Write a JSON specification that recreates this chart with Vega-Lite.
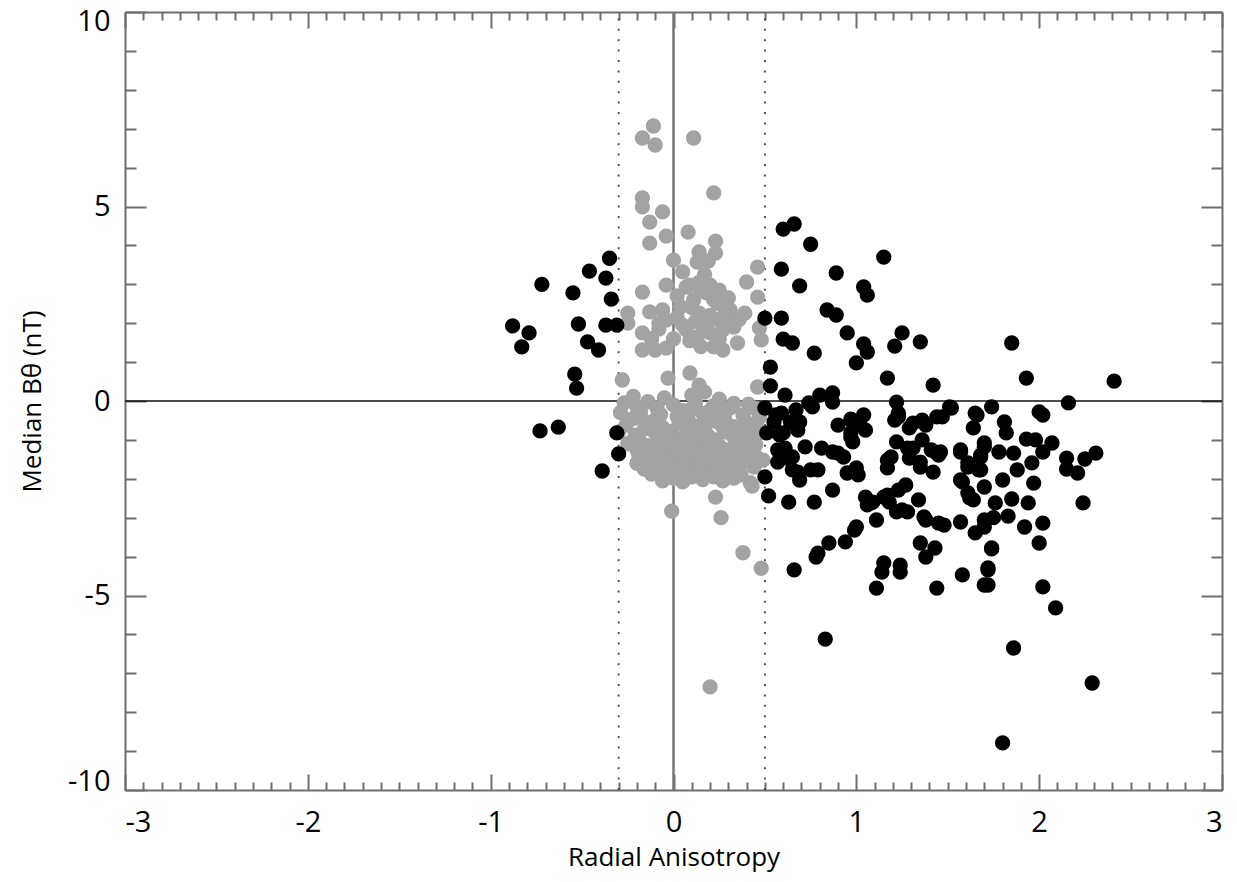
{
  "$schema": "https://vega.github.io/schema/vega-lite/v6.json",
  "width": 1097,
  "height": 778,
  "autosize": {"type": "none"},
  "padding": {"left": 125, "top": 12, "right": 15, "bottom": 92},
  "background": "white",
  "config": {
    "view": {"stroke": null},
    "font": "Open Sans",
    "axis": {
      "grid": false,
      "domainColor": "#6e6e6e",
      "domainWidth": 2,
      "tickColor": "#6e6e6e",
      "tickWidth": 2,
      "labelColor": "#000000",
      "titleColor": "#000000",
      "labelFont": "Open Sans",
      "titleFont": "Open Sans",
      "titleFontWeight": "normal",
      "labelFontSize": 29,
      "titleFontSize": 26
    }
  },
  "datasets": {
    "events": [
      {"ra": -0.11, "bt": 7.07, "set": "iso"},
      {"ra": -0.17, "bt": 6.76, "set": "iso"},
      {"ra": -0.10, "bt": 6.58, "set": "iso"},
      {"ra": 0.11, "bt": 6.76, "set": "iso"},
      {"ra": 0.22, "bt": 5.35, "set": "iso"},
      {"ra": -0.17, "bt": 5.22, "set": "iso"},
      {"ra": -0.17, "bt": 4.99, "set": "iso"},
      {"ra": -0.06, "bt": 4.86, "set": "iso"},
      {"ra": -0.13, "bt": 4.60, "set": "iso"},
      {"ra": 0.08, "bt": 4.34, "set": "iso"},
      {"ra": -0.13, "bt": 4.06, "set": "iso"},
      {"ra": -0.04, "bt": 4.24, "set": "iso"},
      {"ra": 0.23, "bt": 4.11, "set": "iso"},
      {"ra": 0.23, "bt": 3.80, "set": "iso"},
      {"ra": 0.14, "bt": 3.83, "set": "iso"},
      {"ra": 0.00, "bt": 3.62, "set": "iso"},
      {"ra": 0.46, "bt": 3.44, "set": "iso"},
      {"ra": 0.13, "bt": 3.57, "set": "iso"},
      {"ra": 0.40, "bt": 3.06, "set": "iso"},
      {"ra": -0.17, "bt": 2.80, "set": "iso"},
      {"ra": -0.04, "bt": 2.98, "set": "iso"},
      {"ra": 0.09, "bt": 2.98, "set": "iso"},
      {"ra": 0.20, "bt": 2.98, "set": "iso"},
      {"ra": 0.46, "bt": 2.67, "set": "iso"},
      {"ra": -0.25, "bt": 2.26, "set": "iso"},
      {"ra": -0.25, "bt": 2.00, "set": "iso"},
      {"ra": -0.13, "bt": 2.29, "set": "iso"},
      {"ra": -0.06, "bt": 2.34, "set": "iso"},
      {"ra": -0.04, "bt": 2.08, "set": "iso"},
      {"ra": -0.17, "bt": 1.75, "set": "iso"},
      {"ra": -0.17, "bt": 1.31, "set": "iso"},
      {"ra": -0.10, "bt": 1.31, "set": "iso"},
      {"ra": -0.04, "bt": 1.36, "set": "iso"},
      {"ra": 0.07, "bt": 2.93, "set": "iso"},
      {"ra": 0.11, "bt": 2.60, "set": "iso"},
      {"ra": 0.14, "bt": 2.26, "set": "iso"},
      {"ra": 0.07, "bt": 1.83, "set": "iso"},
      {"ra": 0.13, "bt": 1.65, "set": "iso"},
      {"ra": 0.18, "bt": 2.01, "set": "iso"},
      {"ra": 0.27, "bt": 1.83, "set": "iso"},
      {"ra": 0.22, "bt": 1.39, "set": "iso"},
      {"ra": 0.27, "bt": 1.31, "set": "iso"},
      {"ra": 0.35, "bt": 1.49, "set": "iso"},
      {"ra": 0.31, "bt": 2.34, "set": "iso"},
      {"ra": 0.39, "bt": 2.26, "set": "iso"},
      {"ra": 0.04, "bt": 2.42, "set": "iso"},
      {"ra": 0.24, "bt": 2.52, "set": "iso"},
      {"ra": 0.18, "bt": 2.78, "set": "iso"},
      {"ra": 0.25, "bt": 2.85, "set": "iso"},
      {"ra": 0.47, "bt": 1.88, "set": "iso"},
      {"ra": 0.48, "bt": 1.57, "set": "iso"},
      {"ra": -0.28, "bt": 0.54, "set": "iso"},
      {"ra": -0.03, "bt": 0.59, "set": "iso"},
      {"ra": 0.09, "bt": 0.72, "set": "iso"},
      {"ra": 0.14, "bt": 0.41, "set": "iso"},
      {"ra": 0.17, "bt": 0.23, "set": "iso"},
      {"ra": 0.46, "bt": 0.36, "set": "iso"},
      {"ra": 0.17, "bt": 3.25, "set": "iso"},
      {"ra": 0.05, "bt": 3.32, "set": "iso"},
      {"ra": 0.19, "bt": 3.60, "set": "iso"},
      {"ra": 0.20, "bt": 2.20, "set": "iso"},
      {"ra": 0.16, "bt": 1.95, "set": "iso"},
      {"ra": 0.02, "bt": 2.15, "set": "iso"},
      {"ra": 0.30, "bt": 2.05, "set": "iso"},
      {"ra": -0.08, "bt": 1.85, "set": "iso"},
      {"ra": 0.10, "bt": 2.40, "set": "iso"},
      {"ra": 0.15, "bt": 2.85, "set": "iso"},
      {"ra": 0.22, "bt": 2.60, "set": "iso"},
      {"ra": 0.28, "bt": 2.40, "set": "iso"},
      {"ra": 0.12, "bt": 2.05, "set": "iso"},
      {"ra": 0.24, "bt": 2.10, "set": "iso"},
      {"ra": 0.20, "bt": 1.75, "set": "iso"},
      {"ra": 0.09, "bt": 1.55, "set": "iso"},
      {"ra": 0.25, "bt": 1.60, "set": "iso"},
      {"ra": 0.33, "bt": 1.90, "set": "iso"},
      {"ra": 0.36, "bt": 2.10, "set": "iso"},
      {"ra": 0.05, "bt": 1.95, "set": "iso"},
      {"ra": -0.08, "bt": 2.00, "set": "iso"},
      {"ra": -0.12, "bt": 1.60, "set": "iso"},
      {"ra": 0.00, "bt": 1.60, "set": "iso"},
      {"ra": 0.15, "bt": 1.40, "set": "iso"},
      {"ra": 0.02, "bt": 2.70, "set": "iso"},
      {"ra": 0.30, "bt": 2.65, "set": "iso"},
      {"ra": 0.14, "bt": 3.05, "set": "iso"},
      {"ra": -0.22, "bt": 0.12, "set": "iso"},
      {"ra": -0.05, "bt": 0.08, "set": "iso"},
      {"ra": 0.10, "bt": 0.15, "set": "iso"},
      {"ra": 0.25, "bt": 0.05, "set": "iso"},
      {"ra": -0.27, "bt": -0.05, "set": "iso"},
      {"ra": -0.14, "bt": -0.02, "set": "iso"},
      {"ra": 0.00, "bt": -0.10, "set": "iso"},
      {"ra": 0.12, "bt": -0.05, "set": "iso"},
      {"ra": 0.22, "bt": -0.12, "set": "iso"},
      {"ra": 0.33, "bt": -0.06, "set": "iso"},
      {"ra": 0.45, "bt": -0.20, "set": "iso"},
      {"ra": -0.29, "bt": -0.30, "set": "iso"},
      {"ra": -0.18, "bt": -0.28, "set": "iso"},
      {"ra": -0.07, "bt": -0.35, "set": "iso"},
      {"ra": 0.05, "bt": -0.25, "set": "iso"},
      {"ra": 0.16, "bt": -0.32, "set": "iso"},
      {"ra": 0.28, "bt": -0.28, "set": "iso"},
      {"ra": 0.38, "bt": -0.36, "set": "iso"},
      {"ra": 0.47, "bt": -0.42, "set": "iso"},
      {"ra": -0.26, "bt": -0.62, "set": "iso"},
      {"ra": -0.15, "bt": -0.55, "set": "iso"},
      {"ra": -0.06, "bt": -0.68, "set": "iso"},
      {"ra": 0.03, "bt": -0.58, "set": "iso"},
      {"ra": 0.13, "bt": -0.65, "set": "iso"},
      {"ra": 0.23, "bt": -0.52, "set": "iso"},
      {"ra": 0.33, "bt": -0.66, "set": "iso"},
      {"ra": 0.43, "bt": -0.60, "set": "iso"},
      {"ra": -0.21, "bt": -0.88, "set": "iso"},
      {"ra": -0.10, "bt": -0.82, "set": "iso"},
      {"ra": 0.00, "bt": -0.92, "set": "iso"},
      {"ra": 0.09, "bt": -0.85, "set": "iso"},
      {"ra": 0.19, "bt": -0.90, "set": "iso"},
      {"ra": 0.29, "bt": -0.80, "set": "iso"},
      {"ra": 0.39, "bt": -0.88, "set": "iso"},
      {"ra": 0.47, "bt": -0.82, "set": "iso"},
      {"ra": -0.25, "bt": -1.10, "set": "iso"},
      {"ra": -0.14, "bt": -1.15, "set": "iso"},
      {"ra": -0.04, "bt": -1.05, "set": "iso"},
      {"ra": 0.06, "bt": -1.18, "set": "iso"},
      {"ra": 0.16, "bt": -1.08, "set": "iso"},
      {"ra": 0.25, "bt": -1.15, "set": "iso"},
      {"ra": 0.35, "bt": -1.05, "set": "iso"},
      {"ra": 0.45, "bt": -1.12, "set": "iso"},
      {"ra": -0.19, "bt": -1.38, "set": "iso"},
      {"ra": -0.08, "bt": -1.32, "set": "iso"},
      {"ra": 0.03, "bt": -1.42, "set": "iso"},
      {"ra": 0.13, "bt": -1.35, "set": "iso"},
      {"ra": 0.23, "bt": -1.30, "set": "iso"},
      {"ra": 0.33, "bt": -1.40, "set": "iso"},
      {"ra": 0.42, "bt": -1.33, "set": "iso"},
      {"ra": -0.20, "bt": -1.60, "set": "iso"},
      {"ra": -0.10, "bt": -1.65, "set": "iso"},
      {"ra": 0.00, "bt": -1.58, "set": "iso"},
      {"ra": 0.10, "bt": -1.66, "set": "iso"},
      {"ra": 0.20, "bt": -1.60, "set": "iso"},
      {"ra": 0.30, "bt": -1.62, "set": "iso"},
      {"ra": 0.39, "bt": -1.55, "set": "iso"},
      {"ra": -0.12, "bt": -1.88, "set": "iso"},
      {"ra": -0.02, "bt": -1.82, "set": "iso"},
      {"ra": 0.08, "bt": -1.90, "set": "iso"},
      {"ra": 0.18, "bt": -1.85, "set": "iso"},
      {"ra": 0.28, "bt": -1.80, "set": "iso"},
      {"ra": 0.37, "bt": -1.90, "set": "iso"},
      {"ra": -0.06, "bt": -2.05, "set": "iso"},
      {"ra": 0.05, "bt": -2.08, "set": "iso"},
      {"ra": 0.16, "bt": -2.02, "set": "iso"},
      {"ra": 0.27, "bt": -2.05, "set": "iso"},
      {"ra": 0.42, "bt": -2.10, "set": "iso"},
      {"ra": -0.20, "bt": -0.15, "set": "iso"},
      {"ra": -0.09, "bt": -0.18, "set": "iso"},
      {"ra": 0.02, "bt": -0.40, "set": "iso"},
      {"ra": 0.10, "bt": -0.20, "set": "iso"},
      {"ra": 0.20, "bt": -0.25, "set": "iso"},
      {"ra": 0.31, "bt": -0.18, "set": "iso"},
      {"ra": 0.41, "bt": -0.08, "set": "iso"},
      {"ra": -0.22, "bt": -0.45, "set": "iso"},
      {"ra": -0.10, "bt": -0.48, "set": "iso"},
      {"ra": 0.08, "bt": -0.45, "set": "iso"},
      {"ra": 0.18, "bt": -0.42, "set": "iso"},
      {"ra": 0.28, "bt": -0.45, "set": "iso"},
      {"ra": 0.39, "bt": -0.50, "set": "iso"},
      {"ra": -0.30, "bt": -0.80, "set": "iso"},
      {"ra": -0.16, "bt": -0.72, "set": "iso"},
      {"ra": -0.02, "bt": -0.78, "set": "iso"},
      {"ra": 0.07, "bt": -0.70, "set": "iso"},
      {"ra": 0.17, "bt": -0.76, "set": "iso"},
      {"ra": 0.27, "bt": -0.68, "set": "iso"},
      {"ra": 0.37, "bt": -0.74, "set": "iso"},
      {"ra": 0.46, "bt": -0.68, "set": "iso"},
      {"ra": -0.19, "bt": -0.98, "set": "iso"},
      {"ra": -0.08, "bt": -0.95, "set": "iso"},
      {"ra": 0.04, "bt": -1.00, "set": "iso"},
      {"ra": 0.13, "bt": -0.96, "set": "iso"},
      {"ra": 0.23, "bt": -1.00, "set": "iso"},
      {"ra": 0.33, "bt": -0.93, "set": "iso"},
      {"ra": 0.42, "bt": -0.98, "set": "iso"},
      {"ra": -0.20, "bt": -1.25, "set": "iso"},
      {"ra": -0.10, "bt": -1.22, "set": "iso"},
      {"ra": 0.00, "bt": -1.26, "set": "iso"},
      {"ra": 0.10, "bt": -1.25, "set": "iso"},
      {"ra": 0.20, "bt": -1.20, "set": "iso"},
      {"ra": 0.30, "bt": -1.26, "set": "iso"},
      {"ra": 0.40, "bt": -1.22, "set": "iso"},
      {"ra": -0.14, "bt": -1.50, "set": "iso"},
      {"ra": -0.04, "bt": -1.48, "set": "iso"},
      {"ra": 0.06, "bt": -1.52, "set": "iso"},
      {"ra": 0.16, "bt": -1.46, "set": "iso"},
      {"ra": 0.26, "bt": -1.50, "set": "iso"},
      {"ra": 0.36, "bt": -1.46, "set": "iso"},
      {"ra": 0.45, "bt": -1.42, "set": "iso"},
      {"ra": -0.16, "bt": -1.75, "set": "iso"},
      {"ra": -0.06, "bt": -1.72, "set": "iso"},
      {"ra": 0.04, "bt": -1.75, "set": "iso"},
      {"ra": 0.14, "bt": -1.74, "set": "iso"},
      {"ra": 0.24, "bt": -1.72, "set": "iso"},
      {"ra": 0.34, "bt": -1.75, "set": "iso"},
      {"ra": 0.44, "bt": -1.70, "set": "iso"},
      {"ra": 0.00, "bt": -1.98, "set": "iso"},
      {"ra": 0.10, "bt": -1.95, "set": "iso"},
      {"ra": 0.22, "bt": -1.95, "set": "iso"},
      {"ra": 0.33, "bt": -1.98, "set": "iso"},
      {"ra": -0.01, "bt": -2.83, "set": "iso"},
      {"ra": 0.23, "bt": -2.47, "set": "iso"},
      {"ra": 0.26, "bt": -3.00, "set": "iso"},
      {"ra": 0.38, "bt": -3.90, "set": "iso"},
      {"ra": 0.48, "bt": -4.30, "set": "iso"},
      {"ra": 0.20, "bt": -7.35, "set": "iso"},
      {"ra": 0.43, "bt": -2.19, "set": "iso"},
      {"ra": 0.49, "bt": -1.52, "set": "iso"},

      {"ra": -0.72, "bt": 3.00, "set": "aniso"},
      {"ra": -0.88, "bt": 1.93, "set": "aniso"},
      {"ra": -0.79, "bt": 1.75, "set": "aniso"},
      {"ra": -0.83, "bt": 1.39, "set": "aniso"},
      {"ra": -0.55, "bt": 2.78, "set": "aniso"},
      {"ra": -0.46, "bt": 3.34, "set": "aniso"},
      {"ra": -0.35, "bt": 3.67, "set": "aniso"},
      {"ra": -0.37, "bt": 3.16, "set": "aniso"},
      {"ra": -0.34, "bt": 2.62, "set": "aniso"},
      {"ra": -0.52, "bt": 1.98, "set": "aniso"},
      {"ra": -0.37, "bt": 1.95, "set": "aniso"},
      {"ra": -0.31, "bt": 1.95, "set": "aniso"},
      {"ra": -0.47, "bt": 1.52, "set": "aniso"},
      {"ra": -0.41, "bt": 1.31, "set": "aniso"},
      {"ra": -0.54, "bt": 0.69, "set": "aniso"},
      {"ra": -0.53, "bt": 0.33, "set": "aniso"},
      {"ra": -0.73, "bt": -0.77, "set": "aniso"},
      {"ra": -0.63, "bt": -0.67, "set": "aniso"},
      {"ra": -0.31, "bt": -0.82, "set": "aniso"},
      {"ra": -0.30, "bt": -1.36, "set": "aniso"},
      {"ra": -0.39, "bt": -1.80, "set": "aniso"},
      {"ra": 0.60, "bt": 4.42, "set": "aniso"},
      {"ra": 0.66, "bt": 4.55, "set": "aniso"},
      {"ra": 0.75, "bt": 4.03, "set": "aniso"},
      {"ra": 1.15, "bt": 3.70, "set": "aniso"},
      {"ra": 0.59, "bt": 3.39, "set": "aniso"},
      {"ra": 0.89, "bt": 3.29, "set": "aniso"},
      {"ra": 0.69, "bt": 2.96, "set": "aniso"},
      {"ra": 1.04, "bt": 2.93, "set": "aniso"},
      {"ra": 1.06, "bt": 2.72, "set": "aniso"},
      {"ra": 0.84, "bt": 2.34, "set": "aniso"},
      {"ra": 0.89, "bt": 2.21, "set": "aniso"},
      {"ra": 0.50, "bt": 2.13, "set": "aniso"},
      {"ra": 0.59, "bt": 2.13, "set": "aniso"},
      {"ra": 0.95, "bt": 1.75, "set": "aniso"},
      {"ra": 1.25, "bt": 1.75, "set": "aniso"},
      {"ra": 1.35, "bt": 1.52, "set": "aniso"},
      {"ra": 1.21, "bt": 1.41, "set": "aniso"},
      {"ra": 0.60, "bt": 1.59, "set": "aniso"},
      {"ra": 0.65, "bt": 1.49, "set": "aniso"},
      {"ra": 1.04, "bt": 1.47, "set": "aniso"},
      {"ra": 1.06, "bt": 1.26, "set": "aniso"},
      {"ra": 0.77, "bt": 1.23, "set": "aniso"},
      {"ra": 1.00, "bt": 0.98, "set": "aniso"},
      {"ra": 0.53, "bt": 0.87, "set": "aniso"},
      {"ra": 1.17, "bt": 0.59, "set": "aniso"},
      {"ra": 1.42, "bt": 0.41, "set": "aniso"},
      {"ra": 0.53, "bt": 0.39, "set": "aniso"},
      {"ra": 0.61, "bt": 0.15, "set": "aniso"},
      {"ra": 0.80, "bt": 0.15, "set": "aniso"},
      {"ra": 0.87, "bt": 0.21, "set": "aniso"},
      {"ra": 0.87, "bt": -0.03, "set": "aniso"},
      {"ra": 0.74, "bt": -0.05, "set": "aniso"},
      {"ra": 0.67, "bt": -0.23, "set": "aniso"},
      {"ra": 0.50, "bt": -0.18, "set": "aniso"},
      {"ra": 1.22, "bt": -0.03, "set": "aniso"},
      {"ra": 1.23, "bt": -0.31, "set": "aniso"},
      {"ra": 1.52, "bt": -0.18, "set": "aniso"},
      {"ra": 1.47, "bt": -0.41, "set": "aniso"},
      {"ra": 1.65, "bt": -0.31, "set": "aniso"},
      {"ra": 1.74, "bt": -0.15, "set": "aniso"},
      {"ra": 0.59, "bt": -0.31, "set": "aniso"},
      {"ra": 0.55, "bt": -0.54, "set": "aniso"},
      {"ra": 0.64, "bt": -0.54, "set": "aniso"},
      {"ra": 0.90, "bt": -0.62, "set": "aniso"},
      {"ra": 0.98, "bt": -0.54, "set": "aniso"},
      {"ra": 1.04, "bt": -0.36, "set": "aniso"},
      {"ra": 1.05, "bt": -0.75, "set": "aniso"},
      {"ra": 0.97, "bt": -0.82, "set": "aniso"},
      {"ra": 1.21, "bt": -0.49, "set": "aniso"},
      {"ra": 1.29, "bt": -0.69, "set": "aniso"},
      {"ra": 1.38, "bt": -0.62, "set": "aniso"},
      {"ra": 1.64, "bt": -0.69, "set": "aniso"},
      {"ra": 0.51, "bt": -0.82, "set": "aniso"},
      {"ra": 0.58, "bt": -0.87, "set": "aniso"},
      {"ra": 0.68, "bt": -0.75, "set": "aniso"},
      {"ra": 0.98, "bt": -1.05, "set": "aniso"},
      {"ra": 1.22, "bt": -1.05, "set": "aniso"},
      {"ra": 0.81, "bt": -1.21, "set": "aniso"},
      {"ra": 0.72, "bt": -1.18, "set": "aniso"},
      {"ra": 0.61, "bt": -1.21, "set": "aniso"},
      {"ra": 0.90, "bt": -1.34, "set": "aniso"},
      {"ra": 0.93, "bt": -1.44, "set": "aniso"},
      {"ra": 1.31, "bt": -1.21, "set": "aniso"},
      {"ra": 1.36, "bt": -1.00, "set": "aniso"},
      {"ra": 1.44, "bt": -1.34, "set": "aniso"},
      {"ra": 1.57, "bt": -1.31, "set": "aniso"},
      {"ra": 1.70, "bt": -1.18, "set": "aniso"},
      {"ra": 0.57, "bt": -1.57, "set": "aniso"},
      {"ra": 0.65, "bt": -1.44, "set": "aniso"},
      {"ra": 1.17, "bt": -1.52, "set": "aniso"},
      {"ra": 1.19, "bt": -1.44, "set": "aniso"},
      {"ra": 1.29, "bt": -1.47, "set": "aniso"},
      {"ra": 1.35, "bt": -1.57, "set": "aniso"},
      {"ra": 1.61, "bt": -1.59, "set": "aniso"},
      {"ra": 1.68, "bt": -1.44, "set": "aniso"},
      {"ra": 0.68, "bt": -1.83, "set": "aniso"},
      {"ra": 0.79, "bt": -1.77, "set": "aniso"},
      {"ra": 0.69, "bt": -2.03, "set": "aniso"},
      {"ra": 0.95, "bt": -1.85, "set": "aniso"},
      {"ra": 1.01, "bt": -1.90, "set": "aniso"},
      {"ra": 1.42, "bt": -1.83, "set": "aniso"},
      {"ra": 1.57, "bt": -2.03, "set": "aniso"},
      {"ra": 0.50, "bt": -1.95, "set": "aniso"},
      {"ra": 0.87, "bt": -2.29, "set": "aniso"},
      {"ra": 0.52, "bt": -2.44, "set": "aniso"},
      {"ra": 0.63, "bt": -2.60, "set": "aniso"},
      {"ra": 0.77, "bt": -2.60, "set": "aniso"},
      {"ra": 1.05, "bt": -2.47, "set": "aniso"},
      {"ra": 1.09, "bt": -2.60, "set": "aniso"},
      {"ra": 1.17, "bt": -2.42, "set": "aniso"},
      {"ra": 1.23, "bt": -2.29, "set": "aniso"},
      {"ra": 1.27, "bt": -2.16, "set": "aniso"},
      {"ra": 1.34, "bt": -2.54, "set": "aniso"},
      {"ra": 1.61, "bt": -2.36, "set": "aniso"},
      {"ra": 1.64, "bt": -2.54, "set": "aniso"},
      {"ra": 1.06, "bt": -2.67, "set": "aniso"},
      {"ra": 1.18, "bt": -2.60, "set": "aniso"},
      {"ra": 1.22, "bt": -2.85, "set": "aniso"},
      {"ra": 1.28, "bt": -2.85, "set": "aniso"},
      {"ra": 1.11, "bt": -3.06, "set": "aniso"},
      {"ra": 1.38, "bt": -3.06, "set": "aniso"},
      {"ra": 1.48, "bt": -3.19, "set": "aniso"},
      {"ra": 1.57, "bt": -3.11, "set": "aniso"},
      {"ra": 1.70, "bt": -3.06, "set": "aniso"},
      {"ra": 1.65, "bt": -3.39, "set": "aniso"},
      {"ra": 0.99, "bt": -3.32, "set": "aniso"},
      {"ra": 0.94, "bt": -3.62, "set": "aniso"},
      {"ra": 0.85, "bt": -3.65, "set": "aniso"},
      {"ra": 0.79, "bt": -3.91, "set": "aniso"},
      {"ra": 0.78, "bt": -4.01, "set": "aniso"},
      {"ra": 1.35, "bt": -3.65, "set": "aniso"},
      {"ra": 1.43, "bt": -3.78, "set": "aniso"},
      {"ra": 1.38, "bt": -4.01, "set": "aniso"},
      {"ra": 1.74, "bt": -3.78, "set": "aniso"},
      {"ra": 0.66, "bt": -4.34, "set": "aniso"},
      {"ra": 1.15, "bt": -4.16, "set": "aniso"},
      {"ra": 1.14, "bt": -4.40, "set": "aniso"},
      {"ra": 1.24, "bt": -4.22, "set": "aniso"},
      {"ra": 1.24, "bt": -4.40, "set": "aniso"},
      {"ra": 1.58, "bt": -4.47, "set": "aniso"},
      {"ra": 1.72, "bt": -4.29, "set": "aniso"},
      {"ra": 1.70, "bt": -4.73, "set": "aniso"},
      {"ra": 1.11, "bt": -4.81, "set": "aniso"},
      {"ra": 1.44, "bt": -4.81, "set": "aniso"},
      {"ra": 0.83, "bt": -6.12, "set": "aniso"},
      {"ra": 0.56, "bt": -0.36, "set": "aniso"},
      {"ra": 0.76, "bt": -0.15, "set": "aniso"},
      {"ra": 0.69, "bt": -0.54, "set": "aniso"},
      {"ra": 0.60, "bt": -0.82, "set": "aniso"},
      {"ra": 0.97, "bt": -0.47, "set": "aniso"},
      {"ra": 1.02, "bt": -0.60, "set": "aniso"},
      {"ra": 0.97, "bt": -0.93, "set": "aniso"},
      {"ra": 1.23, "bt": -0.41, "set": "aniso"},
      {"ra": 1.31, "bt": -0.57, "set": "aniso"},
      {"ra": 1.36, "bt": -0.49, "set": "aniso"},
      {"ra": 1.44, "bt": -0.41, "set": "aniso"},
      {"ra": 0.57, "bt": -1.26, "set": "aniso"},
      {"ra": 0.87, "bt": -1.31, "set": "aniso"},
      {"ra": 0.62, "bt": -1.47, "set": "aniso"},
      {"ra": 0.65, "bt": -1.77, "set": "aniso"},
      {"ra": 0.75, "bt": -1.77, "set": "aniso"},
      {"ra": 1.00, "bt": -1.72, "set": "aniso"},
      {"ra": 1.17, "bt": -1.72, "set": "aniso"},
      {"ra": 1.28, "bt": -1.21, "set": "aniso"},
      {"ra": 1.35, "bt": -1.70, "set": "aniso"},
      {"ra": 1.41, "bt": -1.26, "set": "aniso"},
      {"ra": 1.45, "bt": -1.39, "set": "aniso"},
      {"ra": 1.08, "bt": -2.62, "set": "aniso"},
      {"ra": 1.15, "bt": -2.47, "set": "aniso"},
      {"ra": 1.25, "bt": -2.80, "set": "aniso"},
      {"ra": 1.00, "bt": -3.24, "set": "aniso"},
      {"ra": 1.37, "bt": -2.98, "set": "aniso"},
      {"ra": 1.45, "bt": -3.14, "set": "aniso"},
      {"ra": 1.85, "bt": 1.49, "set": "aniso"},
      {"ra": 1.93, "bt": 0.59, "set": "aniso"},
      {"ra": 2.41, "bt": 0.51, "set": "aniso"},
      {"ra": 2.16, "bt": -0.05, "set": "aniso"},
      {"ra": 2.00, "bt": -0.28, "set": "aniso"},
      {"ra": 2.02, "bt": -0.36, "set": "aniso"},
      {"ra": 1.81, "bt": -0.54, "set": "aniso"},
      {"ra": 1.82, "bt": -0.82, "set": "aniso"},
      {"ra": 1.93, "bt": -0.98, "set": "aniso"},
      {"ra": 1.98, "bt": -1.00, "set": "aniso"},
      {"ra": 2.07, "bt": -1.08, "set": "aniso"},
      {"ra": 2.02, "bt": -1.31, "set": "aniso"},
      {"ra": 1.70, "bt": -1.08, "set": "aniso"},
      {"ra": 1.78, "bt": -1.31, "set": "aniso"},
      {"ra": 1.86, "bt": -1.34, "set": "aniso"},
      {"ra": 2.15, "bt": -1.47, "set": "aniso"},
      {"ra": 2.25, "bt": -1.49, "set": "aniso"},
      {"ra": 2.31, "bt": -1.34, "set": "aniso"},
      {"ra": 2.15, "bt": -1.75, "set": "aniso"},
      {"ra": 2.21, "bt": -1.85, "set": "aniso"},
      {"ra": 1.96, "bt": -1.59, "set": "aniso"},
      {"ra": 1.68, "bt": -1.77, "set": "aniso"},
      {"ra": 1.88, "bt": -1.77, "set": "aniso"},
      {"ra": 1.97, "bt": -2.11, "set": "aniso"},
      {"ra": 1.80, "bt": -2.03, "set": "aniso"},
      {"ra": 1.70, "bt": -2.21, "set": "aniso"},
      {"ra": 1.85, "bt": -2.52, "set": "aniso"},
      {"ra": 1.94, "bt": -2.62, "set": "aniso"},
      {"ra": 2.24, "bt": -2.62, "set": "aniso"},
      {"ra": 1.76, "bt": -2.62, "set": "aniso"},
      {"ra": 1.75, "bt": -3.00, "set": "aniso"},
      {"ra": 1.83, "bt": -2.96, "set": "aniso"},
      {"ra": 1.92, "bt": -3.24, "set": "aniso"},
      {"ra": 2.02, "bt": -3.14, "set": "aniso"},
      {"ra": 2.00, "bt": -3.65, "set": "aniso"},
      {"ra": 1.70, "bt": -3.24, "set": "aniso"},
      {"ra": 1.74, "bt": -3.80, "set": "aniso"},
      {"ra": 1.72, "bt": -4.34, "set": "aniso"},
      {"ra": 1.72, "bt": -4.73, "set": "aniso"},
      {"ra": 2.02, "bt": -4.78, "set": "aniso"},
      {"ra": 2.09, "bt": -5.32, "set": "aniso"},
      {"ra": 1.86, "bt": -6.35, "set": "aniso"},
      {"ra": 2.29, "bt": -7.25, "set": "aniso"},
      {"ra": 1.80, "bt": -8.79, "set": "aniso"},
      {"ra": 1.51, "bt": -0.15, "set": "aniso"},
      {"ra": 1.66, "bt": -0.36, "set": "aniso"},
      {"ra": 1.46, "bt": -1.31, "set": "aniso"},
      {"ra": 1.57, "bt": -1.26, "set": "aniso"},
      {"ra": 1.68, "bt": -1.39, "set": "aniso"},
      {"ra": 1.61, "bt": -1.70, "set": "aniso"},
      {"ra": 1.67, "bt": -1.77, "set": "aniso"},
      {"ra": 1.58, "bt": -2.08, "set": "aniso"},
      {"ra": 1.62, "bt": -2.49, "set": "aniso"}
    ]
  },
  "resolve": {"axis": {"x": "independent", "y": "independent"}},
  "layer": [
    {
      "description": "Vertical zero line; carries the minor ticks of the bottom and left axes",
      "data": {"values": [{"ra": 0}]},
      "mark": {"type": "rule", "color": "#777777", "strokeWidth": 2.5},
      "encoding": {
        "x": {
          "field": "ra", "type": "quantitative",
          "scale": {"domain": [-3, 3], "nice": false, "zero": false},
          "axis": {
            "orient": "bottom", "title": null, "labels": false, "domain": false,
            "tickSize": -8,
            "values": [-2.9,-2.8,-2.7,-2.6,-2.5,-2.4,-2.3,-2.2,-2.1,-1.9,-1.8,-1.7,-1.6,-1.5,-1.4,-1.3,-1.2,-1.1,-0.9,-0.8,-0.7,-0.6,-0.5,-0.4,-0.3,-0.2,-0.1,0.1,0.2,0.3,0.4,0.5,0.6,0.7,0.8,0.9,1.1,1.2,1.3,1.4,1.5,1.6,1.7,1.8,1.9,2.1,2.2,2.3,2.4,2.5,2.6,2.7,2.8,2.9]
          }
        },
        "y": {
          "datum": -10, "type": "quantitative",
          "scale": {"domain": [-10, 10], "nice": false, "zero": false},
          "axis": {
            "orient": "left", "title": null, "labels": false, "domain": false,
            "tickSize": -11,
            "values": [-9,-8,-7,-6,-4,-3,-2,-1,1,2,3,4,6,7,8,9]
          }
        },
        "y2": {"datum": 10}
      }
    },
    {
      "description": "Horizontal zero line; carries the major ticks of the top and right axes",
      "data": {"values": [{"bt": 0}]},
      "mark": {"type": "rule", "color": "#111111", "strokeWidth": 1.6},
      "encoding": {
        "x": {
          "datum": -3, "type": "quantitative",
          "axis": {
            "orient": "top", "title": null, "labels": false, "domain": true,
            "tickSize": -16, "values": [-3,-2,-1,0,1,2,3]
          }
        },
        "x2": {"datum": 3},
        "y": {
          "field": "bt", "type": "quantitative",
          "axis": {
            "orient": "right", "title": null, "labels": false, "domain": true,
            "tickSize": -21, "values": [-10,-5,0,5,10]
          }
        }
      }
    },
    {
      "description": "Dotted anisotropy thresholds; carries the minor ticks of the top and right axes",
      "data": {"values": [{"ra": -0.3}, {"ra": 0.5}]},
      "mark": {"type": "rule", "color": "#444444", "strokeWidth": 1.8, "strokeDash": [2, 8.4], "strokeCap": "butt"},
      "encoding": {
        "x": {
          "field": "ra", "type": "quantitative",
          "axis": {
            "orient": "top", "title": null, "labels": false, "domain": false,
            "tickSize": -8,
            "values": [-2.9,-2.8,-2.7,-2.6,-2.5,-2.4,-2.3,-2.2,-2.1,-1.9,-1.8,-1.7,-1.6,-1.5,-1.4,-1.3,-1.2,-1.1,-0.9,-0.8,-0.7,-0.6,-0.5,-0.4,-0.3,-0.2,-0.1,0.1,0.2,0.3,0.4,0.5,0.6,0.7,0.8,0.9,1.1,1.2,1.3,1.4,1.5,1.6,1.7,1.8,1.9,2.1,2.2,2.3,2.4,2.5,2.6,2.7,2.8,2.9]
          }
        },
        "y": {
          "datum": -10, "type": "quantitative",
          "axis": {
            "orient": "right", "title": null, "labels": false, "domain": false,
            "tickSize": -11,
            "values": [-9,-8,-7,-6,-4,-3,-2,-1,1,2,3,4,6,7,8,9]
          }
        },
        "y2": {"datum": 10}
      }
    },
    {
      "description": "Events; gray for near-isotropic, black for anisotropic",
      "data": {"name": "events"},
      "mark": {"type": "circle", "opacity": 1, "strokeWidth": 0},
      "encoding": {
        "x": {
          "field": "ra", "type": "quantitative",
          "axis": {
            "orient": "bottom", "title": "Radial Anisotropy", "domain": true,
            "tickSize": -16, "values": [-3,-2,-1,0,1,2,3],
            "labelExpr": "datum.value + ''",
            "labelPadding": 34, "titlePadding": 7
          }
        },
        "y": {
          "field": "bt", "type": "quantitative",
          "axis": {
            "orient": "left", "title": "Median Bθ (nT)", "domain": true,
            "tickSize": -21, "values": [-10,-5,0,5,10],
            "labelExpr": "datum.value + ''",
            "labelOffset": {
              "condition": [
                {"test": "datum.value == 10", "value": 9},
                {"test": "datum.value == -10", "value": -9}
              ],
              "value": 0
            },
            "labelPadding": 36, "titlePadding": 22
          }
        },
        "color": {
          "field": "set", "type": "nominal",
          "scale": {"domain": ["iso", "aniso"], "range": ["#a3a3a3", "#000000"]},
          "legend": null
        },
        "size": {"value": 235}
      }
    }
  ]
}
